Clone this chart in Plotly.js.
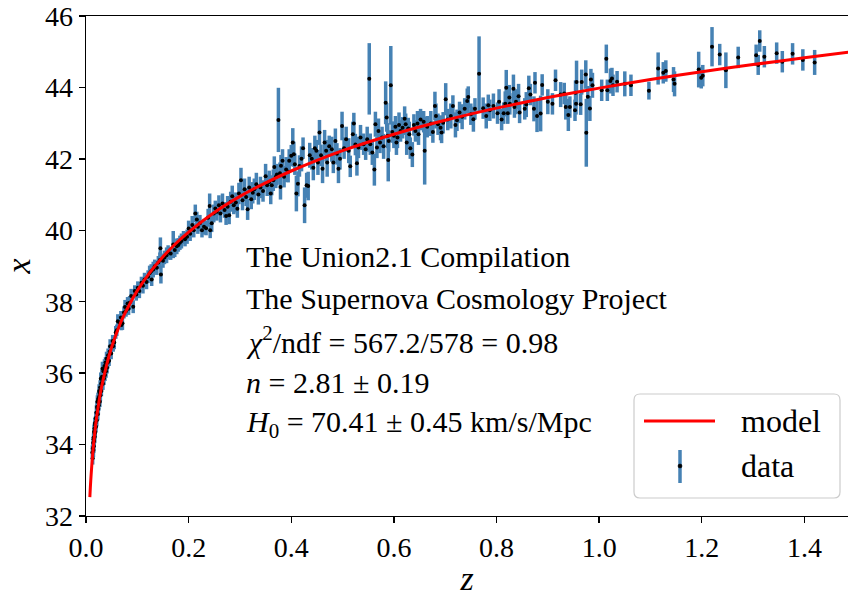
<!DOCTYPE html>
<html><head><meta charset="utf-8">
<script src="https://cdn.plot.ly/plotly-3.0.1.min.js"></script>
<style>body{margin:0;background:#fff}</style>
</head><body><div id="chart" style="width:848px;height:598px"></div>
<script>
// ---- model curve ----
const zModel = [0.0075,0.0085,0.01,0.0125,0.015,0.0175,0.02,0.025,0.03,0.04,0.05,0.06,0.07,0.085,0.1,0.125,0.15,0.175,0.2,0.25,0.3,0.35,0.4,0.5,0.6,0.7,0.8,0.9,1.0,1.1,1.2,1.3,1.4,1.5];
const muModel = [32.53,32.81,33.16,33.65,34.05,34.39,34.69,35.18,35.59,36.22,36.73,37.14,37.5,37.93,38.31,38.83,39.26,39.63,39.95,40.5,40.95,41.33,41.66,42.23,42.69,43.08,43.42,43.72,43.98,44.22,44.44,44.64,44.83,45.01];

// ---- data (z < 0.1) ----
const zA = [0.0124,0.013,0.0135,0.014,0.0145,0.0148,0.015,0.0152,0.0157,0.016,0.0165,0.0168,0.017,0.0175,0.0178,0.018,0.0185,0.019,0.0195,0.0198,0.0203,0.021,0.0215,0.0222,0.0225,0.023,0.0235,0.024,0.0245,0.025,0.0256,0.026,0.0265,0.027,0.0275,0.028,0.0288,0.0295,0.03,0.031,0.0315,0.032,0.033,0.034,0.035,0.0355,0.036,0.037,0.038,0.039,0.04,0.041,0.0425,0.043,0.045,0.046,0.047,0.049,0.052,0.053,0.055,0.058,0.06,0.062,0.065,0.068,0.069,0.071,0.074,0.076,0.078,0.081,0.083,0.085,0.088,0.092,0.095,0.098];
const muA = [33.78,33.62,33.9,34.05,33.85,34.15,34.2,33.95,34.36,34.1,34.45,34.3,34.22,34.55,34.6,34.35,34.62,34.73,34.5,34.75,34.9,34.68,35.05,35.2,35.0,34.85,35.25,35.0,35.3,35.1,35.5,35.35,35.45,35.2,35.6,35.38,35.84,35.7,35.5,35.9,35.75,36.12,35.7,36.05,35.85,36.1,36.2,35.95,36.3,36.05,36.4,36.15,36.3,36.5,36.35,36.6,36.75,36.55,36.9,36.75,36.86,37.14,37.2,37.45,37.42,37.56,37.35,37.4,37.7,37.85,37.74,37.95,37.8,37.97,38.16,37.86,38.3,38.2];
const errA = [0.2,0.18,0.15,0.17,0.2,0.16,0.15,0.18,0.2,0.16,0.17,0.15,0.18,0.2,0.16,0.15,0.17,0.19,0.16,0.15,0.2,0.17,0.16,0.18,0.15,0.17,0.2,0.16,0.18,0.15,0.19,0.16,0.17,0.15,0.2,0.16,0.18,0.17,0.15,0.19,0.16,0.2,0.17,0.15,0.18,0.16,0.19,0.17,0.15,0.18,0.2,0.16,0.17,0.19,0.15,0.18,0.2,0.16,0.17,0.15,0.19,0.18,0.16,0.2,0.17,0.18,0.15,0.19,0.17,0.2,0.16,0.18,0.17,0.19,0.2,0.18,0.16,0.17];

// ---- data (0.1 - 0.2) ----
const zB = [0.101,0.104,0.108,0.111,0.114,0.118,0.121,0.124,0.127,0.128,0.131,0.134,0.138,0.141,0.144,0.145,0.146,0.15,0.153,0.157,0.16,0.165,0.17,0.173,0.177,0.18,0.183,0.186,0.19,0.193];
const muB = [38.39,38.3,38.53,38.45,38.62,38.55,38.7,38.8,38.85,38.62,38.9,38.99,38.95,39.1,39.17,39.5,38.76,39.15,39.24,39.3,39.38,39.35,39.6,39.45,39.55,39.59,39.65,39.7,39.8,39.75];
const errB = [0.18,0.2,0.17,0.22,0.19,0.2,0.18,0.21,0.2,0.18,0.22,0.19,0.2,0.18,0.21,0.3,0.25,0.2,0.19,0.22,0.2,0.18,0.38,0.2,0.22,0.19,0.2,0.21,0.18,0.2];

// ---- data (0.2 - 0.46) ----
const zC = [0.197,0.2,0.203,0.207,0.21,0.213,0.216,0.218,0.222,0.226,0.23,0.234,0.238,0.241,0.242,0.245,0.249,0.252,0.255,0.259,0.262,0.266,0.27,0.273,0.276,0.279,0.282,0.285,0.288,0.292,0.295,0.298,0.302,0.305,0.309,0.312,0.315,0.318,0.322,0.325,0.328,0.332,0.336,0.34,0.345,0.35,0.353,0.357,0.36,0.362,0.365,0.367,0.37,0.372,0.375,0.378,0.379,0.38,0.383,0.386,0.39,0.394,0.396,0.4,0.403,0.405,0.407,0.41,0.413,0.416,0.42,0.423,0.426,0.43,0.433,0.436,0.44,0.443,0.446,0.449,0.452,0.455,0.458,0.461];
const muC = [39.82,40.05,39.9,40.15,40.0,40.47,40.3,40.1,40.2,40.0,40.1,40.06,40.35,40.68,40.0,40.2,40.47,40.61,40.52,40.7,40.47,40.75,40.57,40.4,40.66,40.42,40.8,40.95,40.7,40.78,40.6,41.03,41.4,40.84,41.15,40.93,40.59,41.2,40.87,41.05,41.15,41.29,41.0,41.2,41.1,41.51,41.26,41.35,41.03,41.26,41.4,41.77,41.5,41.56,43.09,41.6,41.21,41.81,41.95,41.5,41.7,41.64,41.95,42.09,42.46,42.13,41.85,41.03,41.3,41.8,42.0,42.3,40.7,41.26,41.24,42.1,42.0,41.75,42.3,42.23,41.9,42.74,42.1,41.72];
const errC = [0.2,0.22,0.2,0.25,0.2,0.25,0.22,0.2,0.23,0.2,0.22,0.2,0.25,0.35,0.22,0.25,0.25,0.22,0.25,0.28,0.25,0.28,0.22,0.25,0.3,0.25,0.28,0.3,0.25,0.28,0.25,0.3,0.35,0.28,0.3,0.25,0.3,0.3,0.28,0.3,0.3,0.32,0.28,0.3,0.3,0.35,0.3,0.32,0.3,0.28,0.3,0.3,0.32,0.3,0.9,0.3,0.35,0.3,0.32,0.3,0.35,0.3,0.32,0.3,0.4,0.35,0.3,0.5,0.35,0.3,0.35,0.3,0.5,0.35,0.4,0.35,0.3,0.35,0.35,0.3,0.35,0.35,0.3,0.4];

// ---- data (0.46 - 0.77) ----
const zD = [0.465,0.468,0.47,0.474,0.479,0.482,0.486,0.489,0.492,0.495,0.499,0.503,0.507,0.512,0.515,0.52,0.522,0.525,0.528,0.531,0.535,0.541,0.545,0.548,0.552,0.554,0.558,0.562,0.564,0.567,0.57,0.573,0.577,0.58,0.584,0.586,0.588,0.589,0.59,0.594,0.597,0.6,0.603,0.605,0.607,0.61,0.613,0.617,0.621,0.623,0.625,0.628,0.63,0.632,0.636,0.639,0.642,0.646,0.648,0.652,0.658,0.66,0.665,0.672,0.676,0.68,0.682,0.686,0.691,0.693,0.696,0.701,0.705,0.711,0.715,0.72,0.723,0.728,0.733,0.738,0.743,0.745,0.75,0.755,0.758,0.766];
const muD = [42.46,42.23,41.9,42.35,42.27,41.9,42.5,42.14,41.72,42.0,42.92,42.3,42.55,42.23,41.79,42.69,42.99,42.4,41.88,42.32,42.6,42.41,42.27,42.55,44.24,42.41,42.18,41.7,42.97,42.32,42.78,42.46,42.6,42.35,43.57,43.16,42.65,41.97,42.5,44.06,42.75,42.65,42.9,42.46,42.6,42.95,42.78,42.87,43.12,42.97,42.46,42.85,42.69,42.3,42.12,42.95,42.78,42.99,42.69,43.1,43.04,42.23,42.9,42.99,42.75,43.48,43.2,42.97,42.87,42.74,43.01,43.67,43.1,43.2,43.48,42.95,43.08,43.3,43.18,43.4,43.62,43.73,43.25,43.11,43.4,44.38];
const errD = [0.35,0.3,0.4,0.3,0.35,0.3,0.35,0.3,0.4,0.3,0.4,0.3,0.35,0.35,0.3,0.35,0.3,0.3,0.35,0.3,0.35,0.3,0.3,0.35,1.0,0.3,0.35,0.45,0.35,0.3,0.35,0.3,0.3,0.35,0.6,0.4,0.35,0.6,0.3,1.1,0.3,0.35,0.3,0.35,0.3,0.35,0.3,0.3,0.35,0.3,0.35,0.3,0.35,0.3,0.35,0.3,0.3,0.35,0.3,0.3,0.3,0.95,0.3,0.35,0.3,0.4,0.35,0.3,0.35,0.3,0.3,0.45,0.3,0.35,0.3,0.35,0.3,0.3,0.35,0.3,0.35,0.3,0.3,0.35,0.3,1.05];

// ---- data (0.77 - 1.1) ----
const zE = [0.774,0.78,0.784,0.787,0.794,0.802,0.805,0.81,0.814,0.817,0.819,0.822,0.825,0.826,0.833,0.835,0.838,0.843,0.845,0.855,0.858,0.863,0.866,0.873,0.875,0.879,0.886,0.889,0.9,0.909,0.915,0.925,0.932,0.935,0.94,0.943,0.953,0.954,0.955,0.956,0.964,0.966,0.974,0.975,0.978,0.982,0.984,0.987,1.005,1.014,1.016,1.022,1.025,1.027,1.035,1.05,1.062,1.097];
const muE = [43.42,43.2,43.5,43.36,43.48,43.28,43.6,43.1,43.28,43.54,43.99,43.28,43.72,43.54,43.96,43.45,43.6,43.75,43.3,43.4,43.52,43.98,43.8,43.4,44.13,43.2,43.27,44.07,43.6,43.54,44.2,43.8,43.83,43.45,43.23,43.45,43.36,43.85,43.54,44.15,43.53,44.15,44.36,42.73,43.74,43.41,44.22,44.06,43.92,44.8,43.92,44.18,44.25,44.06,44.16,44.1,44.06,43.91];
const errE = [0.3,0.35,0.3,0.3,0.35,0.3,0.35,0.3,0.3,0.35,0.5,0.3,0.35,0.3,0.4,0.3,0.35,0.35,0.3,0.3,0.35,0.35,0.3,0.35,0.3,0.45,0.5,0.3,0.35,0.3,0.3,0.35,0.3,0.35,0.45,0.3,0.3,0.35,0.3,0.6,0.3,0.35,0.4,0.95,0.3,0.35,0.3,0.35,0.3,0.4,0.3,0.35,0.3,0.3,0.3,0.35,0.3,0.25];

// ---- data (z > 1.1) ----
const zF = [1.115,1.125,1.13,1.145,1.147,1.194,1.199,1.202,1.22,1.235,1.247,1.271,1.306,1.31,1.313,1.322,1.346,1.357,1.377,1.397,1.42];
const muF = [44.53,44.41,44.46,44.22,44.1,44.5,44.27,44.33,45.14,44.92,44.48,44.84,44.9,44.63,45.3,44.86,44.96,44.72,44.94,44.77,44.7];
const errF = [0.45,0.3,0.3,0.35,0.35,0.5,0.3,0.3,0.55,0.3,0.5,0.3,0.3,0.28,0.3,0.3,0.3,0.3,0.3,0.3,0.35];

const xTicks = [0, 0.2, 0.4, 0.6, 0.8, 1.0, 1.2, 1.4];
const xTickText = ['0.0','0.2','0.4','0.6','0.8','1.0','1.2','1.4'];
const yTicks = [32, 34, 36, 38, 40, 42, 44, 46];
const yTickText = ['32','34','36','38','40','42','44','46'];

const infoLines = [
  'The Union2.1 Compilation',
  'The Supernova Cosmology Project',
  '<i>χ</i><sup>2</sup>/ndf = 567.2/578 = 0.98',
  '<i>n</i> = 2.81 ± 0.19',
  '<i>H</i><sub>0</sub> = 70.41 ± 0.45 km/s/Mpc'
];
const legendLabels = ['model', 'data'];

const zAll = [].concat(zA, zB, zC, zD, zE, zF);
const muAll = [].concat(muA, muB, muC, muD, muE, muF);
const errAll = [].concat(errA, errB, errC, errD, errE, errF);

// layout geometry (pixels)
const W = 848, H = 598, L = 86, R = 0, T = 16, B = 82;
const pw = W - L - R, ph = H - T - B;
const px = v => (v - L) / pw;
const py = v => (H - B - v) / ph;

const FONT = 'Liberation Serif';
const BLUE = '#4682b4';

const traces = [
  {
    x: zAll, y: muAll, type: 'scatter', mode: 'markers', name: 'data',
    marker: {color: 'black', size: 4},
    error_y: {type: 'data', array: errAll, visible: true, color: BLUE, thickness: 3.5, width: 0},
    showlegend: false, hoverinfo: 'skip'
  },
  {
    x: zModel, y: muModel, type: 'scatter', mode: 'lines', name: 'model',
    line: {color: '#ff0000', width: 3, shape: 'spline', smoothing: 0.6},
    showlegend: false
  }
];

// info text annotations
const annotations = infoLines.map((t, i) => ({
  text: t, xref: 'paper', yref: 'paper', x: px(244), y: py(256 + 42 * i),
  xanchor: 'left', yanchor: 'middle', showarrow: false,
  font: {family: FONT, size: 30, color: 'black'}
}));
annotations.push({text: legendLabels[0], xref: 'paper', yref: 'paper', x: px(739), y: py(421),
  xanchor: 'left', yanchor: 'middle', showarrow: false, font: {family: FONT, size: 32, color: 'black'}});
annotations.push({text: legendLabels[1], xref: 'paper', yref: 'paper', x: px(739), y: py(466),
  xanchor: 'left', yanchor: 'middle', showarrow: false, font: {family: FONT, size: 32, color: 'black'}});

// legend box (rounded)
function roundRect(x0, y0, x1, y1, r) {
  const P = (a, b) => px(a).toFixed(5) + ',' + py(b).toFixed(5);
  return 'M' + P(x0 + r, y0) + ' L' + P(x1 - r, y0) + ' Q' + P(x1, y0) + ' ' + P(x1, y0 + r) +
    ' L' + P(x1, y1 - r) + ' Q' + P(x1, y1) + ' ' + P(x1 - r, y1) +
    ' L' + P(x0 + r, y1) + ' Q' + P(x0, y1) + ' ' + P(x0, y1 - r) +
    ' L' + P(x0, y0 + r) + ' Q' + P(x0, y0) + ' ' + P(x0 + r, y0) + ' Z';
}
const shapes = [
  {type: 'path', xref: 'paper', yref: 'paper', path: roundRect(634, 394, 840, 498, 6),
   fillcolor: 'rgba(255,255,255,0.85)', line: {color: '#cccccc', width: 1.2}, layer: 'above'},
  {type: 'line', xref: 'paper', yref: 'paper', x0: px(644), x1: px(715), y0: py(421), y1: py(421),
   line: {color: '#ff0000', width: 3}, layer: 'above'},
  {type: 'line', xref: 'paper', yref: 'paper', x0: px(680), x1: px(680), y0: py(450), y1: py(483),
   line: {color: BLUE, width: 3.5}, layer: 'above'},
  {type: 'circle', xref: 'paper', yref: 'paper', xsizemode: 'pixel', ysizemode: 'pixel',
   xanchor: px(680), yanchor: py(466), x0: -2, x1: 2, y0: -2, y1: 2,
   fillcolor: 'black', line: {color: 'black', width: 0.5}, layer: 'above'}
];

const axisCommon = {
  showgrid: false, zeroline: false, showline: true, linecolor: 'black', linewidth: 1.3,
  ticks: 'outside', ticklen: 6, tickwidth: 1.3, tickcolor: 'black',
  tickfont: {family: FONT, size: 28, color: 'black'}, automargin: false
};

const layout = {
  width: W, height: H,
  margin: {l: L, r: R, t: T, b: B, pad: 0},
  paper_bgcolor: 'white', plot_bgcolor: 'white',
  font: {family: FONT, color: 'black'},
  showlegend: false,
  xaxis: Object.assign({}, axisCommon, {
    range: [0, 1.485], tickvals: xTicks, ticktext: xTickText, mirror: true,
    title: {text: '<i>z</i>', font: {family: FONT, size: 34, color: 'black'}, standoff: 4}
  }),
  yaxis: Object.assign({}, axisCommon, {
    range: [32, 46], tickvals: yTicks, ticktext: yTickText,
    title: {text: '<i>x</i>', font: {family: FONT, size: 34, color: 'black'}, standoff: 8}
  }),
  annotations: annotations,
  shapes: shapes
};

Plotly.newPlot('chart', traces, layout, {displayModeBar: false, staticPlot: true});
</script>
</body></html>
